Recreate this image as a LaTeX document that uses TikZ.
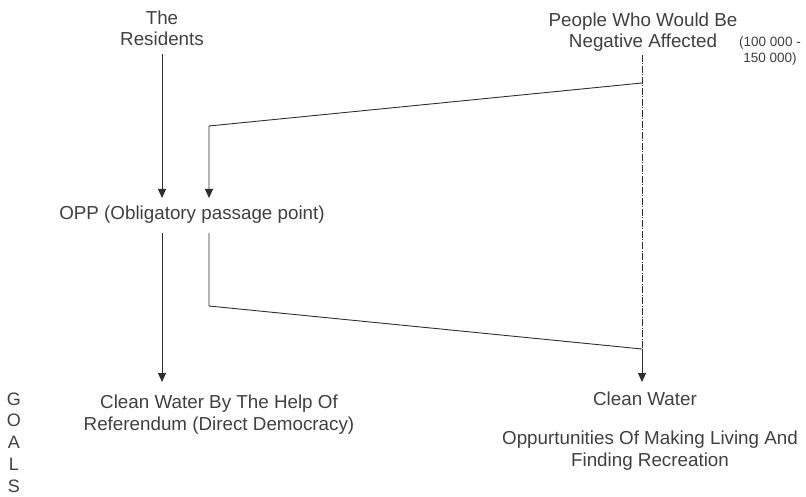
\documentclass[tikz,border=0pt]{standalone}
\usepackage{fontspec}
\setmainfont{Liberation Sans}
\usetikzlibrary{arrows.meta}
\definecolor{ink}{HTML}{2E2E2E}
\definecolor{txt}{HTML}{404040}
\begin{document}
\begin{tikzpicture}[x=1pt,y=-1pt,
  % multi-line labels are placed by the baseline of their last line
  lbl/.style={anchor=base,inner sep=0pt,text=txt,font=\fontsize{18.8}{21.8}\selectfont,align=center},
  small/.style={anchor=base,inner sep=0pt,text=txt,font=\fontsize{13.5}{16.5}\selectfont,align=center},
  link/.style={draw=ink,line width=0.9pt},
  arr/.style={link,-{Triangle[width=8pt,length=9pt]}},
  dashdot/.style={draw=ink,line width=0.9pt,dash pattern=on 7pt off 1.5pt on 1pt off 1.5pt}]
\useasboundingbox (0,0) rectangle (806,497);

% labels
\node[lbl] (res) at (162,46) {The\\Residents};
\node[lbl] (ppl) at (643,48) {People Who Would Be\\Negative Affected};
\node[small] (num) at (770,63) {(100 000 -\\150 000)};
\node[lbl] (opp) at (192,220) {OPP (Obligatory passage point)};
\node[lbl] (cwl) at (219,430) {Clean Water By The Help Of\\Referendum (Direct Democracy)};
\node[lbl] (cwr) at (645,405) {Clean Water};
\node[lbl] (opr) at (650,466) {Oppurtunities Of Making Living And\\Finding Recreation};
\node[lbl,font=\fontsize{18}{21.7}\selectfont] (goals) at (14,492) {G\\O\\A\\L\\S};

% bend points
\coordinate (resTop) at (162,54);
\coordinate (oppInL) at (162,198);
\coordinate (oppInR) at (209,198);
\coordinate (oppOutL) at (162,233);
\coordinate (oppOutR) at (209,233);
\coordinate (topBend) at (209,126);
\coordinate (botBend) at (209,306);
\coordinate (axisTop) at (642,55);
\coordinate (axisHi) at (642,83);
\coordinate (axisLo) at (642,349);
\coordinate (cwlIn) at (162,382);
\coordinate (cwrIn) at (642,382);

% central axis of the affected group
\draw[dashdot] (axisTop) -- (axisLo);

% flows into the passage point
\draw[arr] (resTop) -- (oppInL);
\draw[arr] (axisHi) -- (topBend) -- (oppInR);

% flows out of the passage point
\draw[arr] (oppOutL) -- (cwlIn);
\draw[link] (oppOutR) -- (botBend) -- (axisLo);
\draw[arr] (axisLo) -- (cwrIn);
\end{tikzpicture}
\end{document}
